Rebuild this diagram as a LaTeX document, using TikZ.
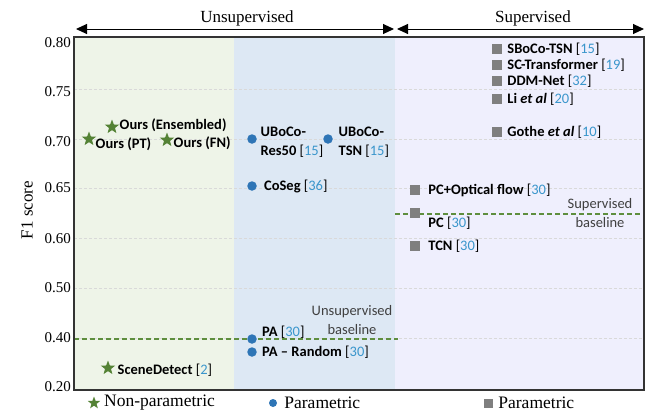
\documentclass[tikz,border=0pt]{standalone}
\usepackage{fontspec}
\setmainfont{Liberation Serif}
\newfontfamily\calib[Ligatures=TeX]{Carlito}
\usetikzlibrary{shapes.geometric, arrows.meta, positioning}
\definecolor{unspgreen}{HTML}{EEF4E8}
\definecolor{unspblue}{HTML}{DDE8F4}
\definecolor{suppurple}{HTML}{EFEFFD}
\definecolor{npgreen}{HTML}{548235}
\definecolor{pblue}{HTML}{2E75B6}
\definecolor{sgray}{HTML}{7F7F7F}
\definecolor{refblue}{HTML}{3A96CC}
\definecolor{dashgreen}{HTML}{5E8E3E}
\definecolor{gridgray}{HTML}{D9D9D9}
\definecolor{axisgray}{HTML}{333333}
\definecolor{notegray}{HTML}{404040}
\newcommand{\rf}[1]{{\mdseries[\textcolor{refblue}{#1}]}}

\begin{document}
\begin{tikzpicture}[x=1pt, y=-1pt,
	npmark/.style={star, star points=5, star point ratio=2.4, fill=npgreen, inner sep=0pt, minimum size=15pt},
	pdot/.style={circle, fill=pblue, inner sep=0pt, minimum size=9.5pt},
	psq/.style={rectangle, fill=sgray, inner sep=0pt, minimum size=10pt},
	lbl/.style={font=\calib\bfseries\fontsize{14.5}{19}\selectfont, inner sep=0pt, align=left},
	note/.style={font=\calib\fontsize{14.5}{19}\selectfont, inner sep=0pt, align=center, text=notegray},
	ttl/.style={font=\fontsize{17}{20}\selectfont, inner sep=0pt},
	legtxt/.style={font=\fontsize{17.5}{20}\selectfont, inner sep=0pt},
	ticklbl/.style={font=\fontsize{15}{18}\selectfont, inner sep=0pt, anchor=east},
	gridln/.style={gridgray, line width=0.6pt, dash pattern=on 3pt off 2pt},
	refline/.style={dashgreen, line width=1.3pt, dash pattern=on 5pt off 3pt},
	rangearrow/.style={line width=1pt, {Triangle[length=11pt,width=10pt]}-{Triangle[length=11pt,width=10pt]}}]
	\useasboundingbox (0,0) rectangle (645,416);
	% regions
	\fill[unspgreen] (74,37) rectangle (234,390);
	\fill[unspblue] (234,37) rectangle (395,390);
	\fill[suppurple] (395,37) rectangle (644,390);
	\foreach \y in {89,139,188,238,288,338}
		\draw[gridln] (74,\y) -- (644,\y);
	% baselines
	\coordinate (ub0) at (74,339);
	\coordinate (ub1) at (398,339);
	\coordinate (sb0) at (395,214);
	\coordinate (sb1) at (644,214);
	\draw[refline] (ub0) -- (ub1);
	\draw[refline] (sb0) -- (sb1);
	\node[note] (unote) at (352,320) {Unsupervised\\baseline};
	\node[note] (snote) at (600,213) {Supervised\\baseline};
	% axes
	\draw[axisgray, line width=1.8pt] (74,37) rectangle (644,390);
	\foreach \v/\y in {0.80/43,0.75/92,0.70/142,0.65/188,0.60/239,0.50/288,0.40/338,0.20/387}
		\node[ticklbl] (tk\y) at (71,\y) {\v};
	\node[ttl, rotate=90] (ylab) at (27,210) {F1 score};
	% top ranges
	\coordinate (ua) at (76,29);
	\coordinate (ub) at (394,29);
	\coordinate (sa) at (397,29);
	\coordinate (sb) at (644,29);
	\draw[rangearrow] (ua) -- (ub);
	\draw[rangearrow] (sa) -- (sb);
	\node[ttl] (unsup) at (247,18) {Unsupervised};
	\node[ttl] (sup) at (533,18) {Supervised};
	% non-parametric
	\node[npmark] (ens) at (112,127) {};
	\node[lbl, right=3pt of ens, yshift=2pt] (ensl) {Ours (Ensembled)};
	\node[npmark] (pt) at (89,139) {};
	\node[lbl, right=2pt of pt, yshift=-5pt] (ptl) {Ours (PT)};
	\node[npmark] (fn) at (167,140) {};
	\node[lbl, right=2pt of fn, yshift=-3pt] (fnl) {Ours (FN)};
	\node[npmark] (scene) at (108,368) {};
	\node[lbl, right=5pt of scene, yshift=-2pt] (scenel) {SceneDetect \rf{2}};
	% parametric, unsupervised
	\node[pdot] (res) at (252,139) {};
	\node[lbl, right=3.5pt of res, yshift=-3pt] (resl) {UBoCo-\\Res50 \rf{15}};
	\node[pdot] (tsn) at (328,139) {};
	\node[lbl, right=5.5pt of tsn, yshift=-3pt] (tsnl) {UBoCo-\\TSN \rf{15}};
	\node[pdot] (coseg) at (252,186) {};
	\node[lbl, right=7pt of coseg] (cosegl) {CoSeg \rf{36}};
	\node[pdot] (pa) at (252,339) {};
	\node[lbl, right=5pt of pa, yshift=7pt] (pal) {PA \rf{30}};
	\node[pdot] (parand) at (252,352) {};
	\node[lbl, right=5pt of parand] (parandl) {PA -- Random \rf{30}};
	% parametric, supervised
	\node[psq] (sboco) at (497,49) {};
	\node[lbl, right=5pt of sboco] (sbocol) {SBoCo-TSN \rf{15}};
	\node[psq] (sctr) at (497,65) {};
	\node[lbl, right=5pt of sctr] (sctrl) {SC-Transformer \rf{19}};
	\node[psq] (ddm) at (497,81) {};
	\node[lbl, right=5pt of ddm] (ddml) {DDM-Net \rf{32}};
	\node[psq] (li) at (497,99) {};
	\node[lbl, right=5pt of li] (lil) {Li \textit{et al} \rf{20}};
	\node[psq] (gothe) at (497,132) {};
	\node[lbl, right=5pt of gothe] (gothel) {Gothe \textit{et al} \rf{10}};
	\node[psq] (pcof) at (415,190) {};
	\node[lbl, right=8pt of pcof] (pcofl) {PC+Optical flow \rf{30}};
	\node[psq] (pc) at (415,213) {};
	\node[lbl, right=8pt of pc, yshift=-10pt] (pcl) {PC \rf{30}};
	\node[psq] (tcn) at (415,246) {};
	\node[lbl, right=8pt of tcn] (tcnl) {TCN \rf{30}};
	% legend
	\node[npmark, minimum size=13pt] (lg1) at (94,403) {};
	\node[legtxt, right=6pt of lg1] (lg1t) {Non-parametric};
	\node[pdot, minimum size=8pt] (lg2) at (273,403) {};
	\node[legtxt, right=7pt of lg2] (lg2t) {Parametric};
	\node[psq, minimum size=9pt] (lg3) at (488,403) {};
	\node[legtxt, right=5.5pt of lg3] (lg3t) {Parametric};
\end{tikzpicture}
\end{document}
